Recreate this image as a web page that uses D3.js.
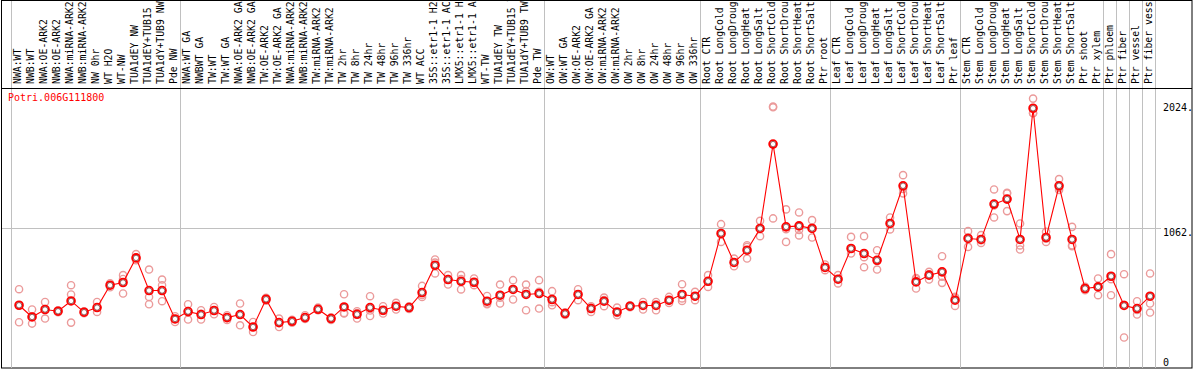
<!DOCTYPE html>
<html>
<head>
<meta charset="utf-8">
<script src="https://cdn.jsdelivr.net/npm/d3@7"></script>
<style>
  body { margin: 0; background: #fff; }
  svg { display: block; }
  text { font-family: "DejaVu Sans Mono", monospace; }
</style>
</head>
<body>
<svg id="chart"></svg>
<script>
const gene = "Potri.006G111800"

const samples = [
  "NWA:WT", "NWB:WT", "NWA:OE-ARK2", "NWB:OE-ARK2", "NWA:miRNA-ARK2", "NWB:miRNA-ARK2",
  "NW 0hr", "WT H2O", "WT-NW", "TUA1dEY NW", "TUA1dEY+TUB15 NW", "TUA1dY+TUB9 NW", "Pde NW",
  "NWA:WT GA", "NWBWT GA", "TW:WT", "TW:WT GA", "NWA:OE-ARK2 GA", "NWB:OE-ARK2 GA",
  "TW:OE-ARK2", "TW:OE-ARK2 GA", "NWA:miRNA-ARK2 GA", "NWB:miRNA-ARK2 GA", "TW:miRNA-ARK2",
  "TW:miRNA-ARK2", "TW 2hr", "TW 8hr", "TW 24hr", "TW 48hr", "TW 96hr", "TW 336hr", "WT ACC",
  "35S::etr1-1 H2O", "35S::etr1-1 ACC", "LMX5::etr1-1 H2O", "LMX5::etr1-1 ACC", "WT-TW",
  "TUA1dEY TW", "TUA1dEY+TUB15 TW", "TUA1dY+TUB9 TW", "Pde TW",
  "OW:WT", "OW:WT GA", "OW:OE-ARK2", "OW:OE-ARK2 GA", "OW:miRNA-ARK2", "OW:miRNA-ARK2",
  "OW 2hr", "OW 8hr", "OW 24hr", "OW 48hr", "OW 96hr", "OW 336hr",
  "Root CTR", "Root LongCold", "Root LongDrought", "Root LongHeat", "Root LongSalt",
  "Root ShortCold", "Root ShortDrought", "Root ShortHeat", "Root ShortSalt", "Ptr root",
  "Leaf CTR", "Leaf LongCold", "Leaf LongDrought", "Leaf LongHeat", "Leaf LongSalt",
  "Leaf ShortCold", "Leaf ShortDrought", "Leaf ShortHeat", "Leaf ShortSalt", "Ptr leaf",
  "Stem CTR", "Stem LongCold", "Stem LongDrought", "Stem LongHeat", "Stem LongSalt",
  "Stem ShortCold", "Stem ShortDrought", "Stem ShortHeat", "Stem ShortSalt", "Ptr shoot",
  "Ptr xylem", "Ptr phloem", "Ptr fiber", "Ptr vessel", "Ptr fiber vessel"
]

// index where each group of samples starts (last = end)
const groupStarts = [0, 13, 41, 53, 63, 73, 84, 85, 86, 87, 88]

const means = [
  434, 338, 399, 385, 469, 377, 415, 598, 620, 821, 554, 554, 322,
  382, 358, 391, 333, 358, 256, 483, 292, 303, 333, 401, 325, 420, 360, 415, 393, 426, 415, 538,
  761, 644, 630, 622, 467, 516, 563, 522, 530,
  481, 366, 522, 407, 467, 379, 426, 432, 432, 475, 522, 508,
  630, 1021, 784, 884, 1062, 1752, 1075, 1083, 1062, 743,
  647, 898, 857, 802, 1103, 1411, 625, 680, 707, 475,
  980, 972, 1261, 1302, 972, 2045, 988, 1411, 972, 571, 584,
  671, 432, 407, 508
]

const replicates = [
  [565, 295, 434], [399, 284, 344], [461, 325, 401], [385, 393, 377], [598, 522, 292],
  [377, 385, 368], [461, 379, 415], [598, 614, 581], [680, 530, 649], [852, 821, 802],
  [726, 502, 442], [644, 598, 467], [322, 297, 344],
  [442, 317, 387], [393, 317, 363], [420, 391, 360], [352, 333, 314], [448, 270, 356],
  [297, 215, 256], [483, 495, 471], [325, 256, 295], [303, 315, 291], [352, 325, 322],
  [415, 393, 395], [325, 336, 314], [524, 366, 371], [371, 325, 385], [508, 346, 391],
  [426, 366, 387], [453, 399, 426], [415, 426, 404], [592, 502, 519], [808, 694, 783],
  [680, 603, 649], [680, 563, 649], [653, 598, 617], [510, 442, 448], [603, 448, 496],
  [639, 481, 567], [603, 549, 393], [639, 407, 543],
  [549, 434, 459], [366, 377, 355], [565, 475, 524], [426, 379, 415], [497, 426, 477],
  [415, 352, 370], [426, 434, 418], [461, 399, 434], [461, 393, 441], [502, 453, 470],
  [606, 469, 490], [543, 475, 505],
  [680, 584, 628], [1097, 952, 1013], [816, 753, 781], [925, 816, 911], [1124, 999, 1062],
  [2053, 2059, 1144], [1218, 1056, 952], [1193, 1050, 1005], [1130, 1070, 988], [767, 721, 740],
  [680, 612, 649], [993, 898, 857], [999, 827, 745], [884, 726, 797], [1152, 1054, 1103],
  [1498, 1349, 1386], [657, 571, 647], [707, 644, 688], [835, 617, 668], [502, 428, 495],
  [1040, 911, 989], [1007, 944, 965], [1381, 1152, 1250], [1349, 1204, 1353], [1103, 890, 923],
  [2124, 2006, 2004], [1034, 952, 978], [1466, 1376, 1392], [1075, 917, 924], [584, 557, 571],
  [653, 516, 583],
  [852, 516, 647], [688, 170, 437], [467, 358, 396], [694, 448, 374]
]

const yTicks = [0, 1062, 2124]
const yTickLabels = ["0", "1062.", "2024."]

const width = 1194, height = 370
const headerBottom = 88
const frameRight = 1192, frameBottom = 368

const svg = d3.select("#chart").attr("width", width).attr("height", height)

const x = d3.scaleBand()
  .domain(d3.range(samples.length))
  .range([11, 1155])
  .paddingInner(0).paddingOuter(0)
const bw = x.bandwidth()
const cx = i => x(i) + bw * 0.62

const y = d3.scaleLinear()
  .domain([0, 2124])
  .range([358.3, 98.6])

// frame
svg.append("rect")
  .attr("x", 1.5).attr("y", 0.5)
  .attr("width", frameRight - 1.5).attr("height", frameBottom - 0.5)
  .attr("fill", "none").attr("stroke", "#000")

// group separators
svg.append("g")
  .selectAll("line")
  .data(groupStarts)
  .enter()
  .append("line")
  .attr("x1", d => (d < samples.length ? x(d) : x(d - 1) + bw) + 0.5)
  .attr("x2", d => (d < samples.length ? x(d) : x(d - 1) + bw) + 0.5)
  .attr("y1", 1).attr("y2", frameBottom)
  .attr("stroke", "#c0c0c0")

// mid gridline
svg.append("line")
  .attr("x1", 2).attr("x2", 1161)
  .attr("y1", Math.round(y(yTicks[1])) + 0.5)
  .attr("y2", Math.round(y(yTicks[1])) + 0.5)
  .attr("stroke", "#c0c0c0")

// header line
svg.append("line")
  .attr("x1", 1).attr("x2", frameRight)
  .attr("y1", headerBottom + 0.5).attr("y2", headerBottom + 0.5)
  .attr("stroke", "#000")

// sample labels
const header = svg.append("g")
header.selectAll("text")
  .data(samples)
  .enter()
  .append("text")
  .attr("transform", (d, i) => `translate(${x(i) + bw * 0.75},84) rotate(-90)`)
  .attr("font-size", "9.8px")
  .attr("fill", "#000")
  .text(d => d)

// gene title
svg.append("text")
  .attr("x", 8).attr("y", 101)
  .attr("font-size", "10px")
  .attr("fill", "#ff0000")
  .text(gene)

// y labels on right
svg.append("g")
  .selectAll("text")
  .data(yTicks)
  .enter()
  .append("text")
  .attr("x", 1163)
  .attr("y", (d, i) => y(d) + (i === 2 ? 12 : 8))
  .attr("font-size", "10px")
  .attr("fill", "#000")
  .text((d, i) => yTickLabels[i])

// replicate points
const repData = []
replicates.forEach((r, i) => r.forEach(v => repData.push({i: i, v: v})))

svg.append("g")
  .selectAll("circle")
  .data(repData)
  .enter()
  .append("circle")
  .attr("cx", d => cx(d.i))
  .attr("cy", d => y(d.v))
  .attr("r", 3.6)
  .attr("fill", "none")
  .attr("stroke", "#eb9a9a")
  .attr("stroke-width", 1.4)

// mean line
const line = d3.line()
  .x((d, i) => cx(i))
  .y(d => y(d))

svg.append("path")
  .datum(means)
  .attr("d", line)
  .attr("fill", "none")
  .attr("stroke", "#ff0000")
  .attr("stroke-width", 1.1)

// mean markers
const meanG = svg.append("g")
meanG.selectAll("circle.outer")
  .data(means)
  .enter()
  .append("circle")
  .attr("class", "outer")
  .attr("cx", (d, i) => cx(i))
  .attr("cy", d => y(d))
  .attr("r", 3.9)
  .attr("fill", "#fff")
  .attr("stroke", "#ff0000")
  .attr("stroke-width", 1.8)

meanG.selectAll("circle.inner")
  .data(means)
  .enter()
  .append("circle")
  .attr("class", "inner")
  .attr("cx", (d, i) => cx(i))
  .attr("cy", d => y(d))
  .attr("r", 2.7)
  .attr("fill", "none")
  .attr("stroke", "#500")
  .attr("stroke-width", 0.6)
</script>
</body>
</html>
